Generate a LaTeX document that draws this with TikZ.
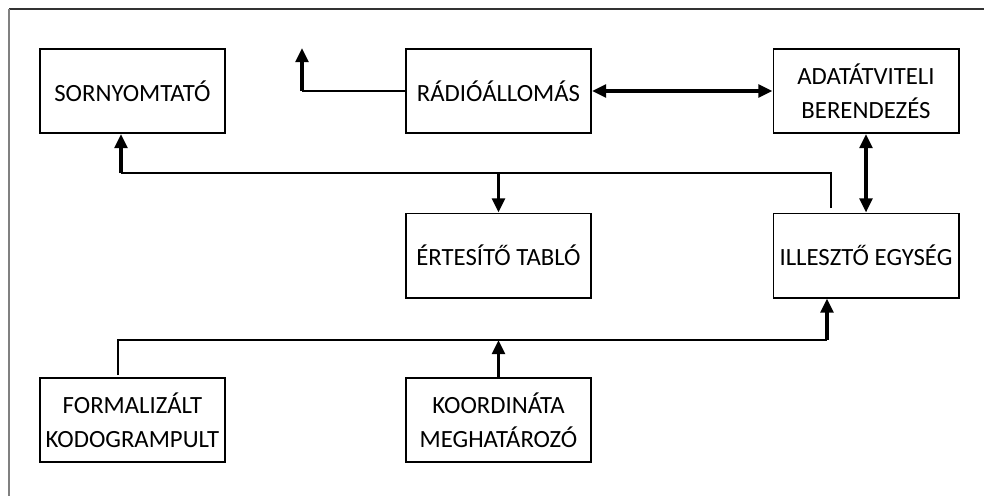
\documentclass[tikz,border=0pt]{standalone}
\usepackage{fontspec}
\setmainfont{Carlito}
\usetikzlibrary{arrows.meta}

\begin{document}
\begin{tikzpicture}[
    x=0.025cm, y=-0.025cm,
    every node/.style={draw, line width=1.4pt, minimum width=4.625cm, minimum height=2.1cm, align=center, inner sep=2pt, font=\fontsize{17.6}{24}\selectfont},
    wire/.style={line width=0.9pt},
    flow/.style={line width=2.2pt, -{Triangle[length=10pt, width=9pt]}},
    duplex/.style={line width=2.2pt, {Triangle[length=10pt, width=9pt]}-{Triangle[length=10pt, width=9pt]}}
]
% Set manual bounding box
\useasboundingbox (0,0) rectangle (984,496);

% Frame
\draw[black!80, line width=0.8pt] (9,9) -- (984,9);
\draw[black!50, line width=0.8pt] (9,9) -- (9,496);

% Top row
\node (sor) at (132.5,91) {SORNYOMTATÓ};
\node (radio) at (498.5,91) {RÁDIÓÁLLOMÁS};
\node (adat) at (866,91) {ADATÁTVITELI\\BERENDEZÉS};

% Middle row
\node (ert) at (498.5,255.5) {ÉRTESÍTŐ TABLÓ};
\node (ill) at (866,255.5) {ILLESZTŐ EGYSÉG};

% Bottom row
\node (form) at (132.5,420) {FORMALIZÁLT\\KODOGRAMPULT};
\node (koord) at (498.5,420) {KOORDINÁTA\\MEGHATÁROZÓ};

% Connections
\coordinate (radioknee) at (302,91);
\coordinate (radiotip) at (302,48);
\draw[wire] (radio) -- (radioknee);
\draw[flow] (radioknee) -- (radiotip);

\draw[duplex] (radio) -- (adat);
\draw[duplex] (adat) -- (ill);

\coordinate (illtap) at (831,208);
\coordinate (busup) at (121,173);
\draw[wire] (illtap) |- (busup);
\draw[flow] (busup) -- (busup |- sor.south);
\draw[flow] (ert.north |- busup) -- (ert.north);

\coordinate (formtap) at (118,375);
\coordinate (busdown) at (827,340);
\draw[wire] (formtap) |- (busdown);
\draw[flow] (busdown) -- (busdown |- ill.south);
\draw[flow] (koord.north) -- (koord.north |- busdown);

\end{tikzpicture}
\end{document}
